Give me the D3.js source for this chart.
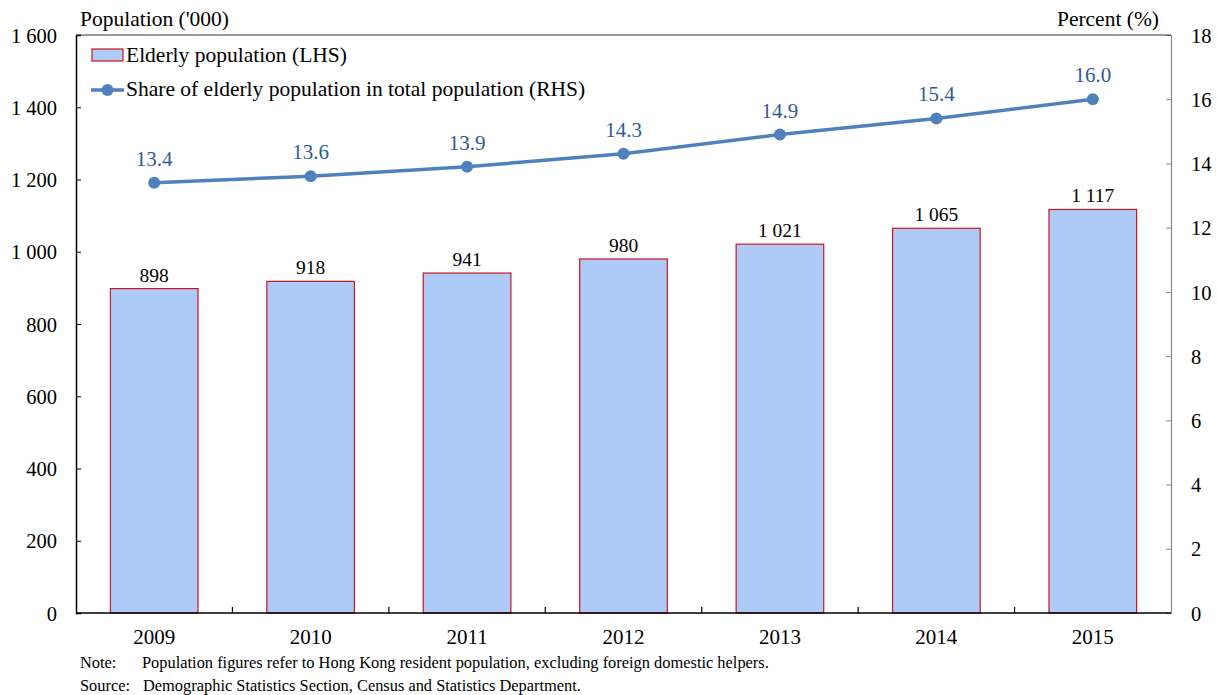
<!DOCTYPE html>
<html>
<head>
<meta charset="utf-8">
<script src="https://cdn.jsdelivr.net/npm/d3@7"></script>
<style>
  html, body { margin: 0; padding: 0; background: #fff; }
  svg { display: block; font-family: "Liberation Serif", "Times New Roman", serif; }
</style>
</head>
<body>
<svg id="chart" width="1217" height="695"></svg>
<script>
// Elderly population in Hong Kong, 2009-2015
const years = ["2009", "2010", "2011", "2012", "2013", "2014", "2015"];
const elderlyPop = [898, 918, 941, 980, 1021, 1065, 1117];      // thousands
const elderlyShare = [13.4, 13.6, 13.9, 14.3, 14.9, 15.4, 16.0]; // percent
const leftTicks = [0, 200, 400, 600, 800, 1000, 1200, 1400, 1600];
const rightTicks = [0, 2, 4, 6, 8, 10, 12, 14, 16, 18];

const svg = d3.select("#chart");
const margin = { left: 76, right: 1171, top: 35, bottom: 613 };

const locale = d3.formatLocale({ decimal: ".", thousands: " ", grouping: [3], currency: ["", ""] });
const fmtInt = locale.format(",d");
const fmt1 = d3.format(".1f");

const x = d3.scaleBand().domain(years).range([margin.left, margin.right]).paddingInner(0.44).paddingOuter(0.22);
const xBand = d3.scaleBand().domain(years).range([margin.left, margin.right]);
const yL = d3.scaleLinear().domain([0, 1600]).range([margin.bottom, margin.top]);
const yR = d3.scaleLinear().domain([0, 18]).range([margin.bottom, margin.top]);

// Bars
svg.append("g").selectAll("rect").data(years).join("rect")
  .attr("x", d => x(d))
  .attr("y", (d, i) => yL(elderlyPop[i]))
  .attr("width", x.bandwidth())
  .attr("height", (d, i) => yL(0) - yL(elderlyPop[i]))
  .attr("fill", "#aecbf8")
  .attr("stroke", "#d0131c")
  .attr("stroke-width", 1.2);

// Bar value labels
svg.append("g").selectAll("text").data(years).join("text")
  .attr("x", d => x(d) + x.bandwidth() / 2)
  .attr("y", (d, i) => yL(elderlyPop[i]) - 7)
  .attr("text-anchor", "middle")
  .attr("font-size", 19.5)
  .attr("fill", "#000")
  .text((d, i) => fmtInt(elderlyPop[i]));

// Left axis
const axL = d3.axisLeft(yL).tickValues(leftTicks).tickSize(-5).tickPadding(19).tickFormat(fmtInt);
const gL = svg.append("g").attr("transform", `translate(${margin.left},0)`).call(axL);
gL.select(".domain").attr("stroke", "#000").attr("stroke-width", 1.5);
gL.selectAll(".tick line").attr("stroke", "#000");
gL.selectAll(".tick text").attr("font-size", 20.5).attr("fill", "#000")
  .attr("font-family", "Liberation Serif, serif").attr("dy", "0.35em");

// Right axis
const axR = d3.axisRight(yR).tickValues(rightTicks).tickSize(-5).tickPadding(20).tickFormat(d3.format("d"));
const gR = svg.append("g").attr("transform", `translate(${margin.right},0)`).call(axR);
gR.select(".domain").attr("stroke", "#888").attr("stroke-width", 1.2);
gR.selectAll(".tick line").attr("stroke", "#888");
gR.selectAll(".tick text").attr("font-size", 20.5).attr("fill", "#000")
  .attr("font-family", "Liberation Serif, serif").attr("dy", "0.35em");

// Top border of plot area
svg.append("line")
  .attr("x1", margin.left).attr("x2", margin.right)
  .attr("y1", margin.top).attr("y2", margin.top)
  .attr("stroke", "#333").attr("stroke-width", 1.2);

// Bottom axis with ticks at category boundaries
const gB = svg.append("g").attr("transform", `translate(0,${margin.bottom})`);
gB.append("line").attr("x1", margin.left).attr("x2", margin.right)
  .attr("stroke", "#000").attr("stroke-width", 1.5);
gB.selectAll("line.sep").data(years.slice(1)).join("line")
  .attr("class", "sep")
  .attr("x1", d => xBand(d)).attr("x2", d => xBand(d))
  .attr("y1", 0).attr("y2", -6)
  .attr("stroke", "#000").attr("stroke-width", 1.2);
gB.selectAll("text").data(years).join("text")
  .attr("x", d => xBand(d) + xBand.bandwidth() / 2)
  .attr("y", 31)
  .attr("text-anchor", "middle")
  .attr("font-size", 21)
  .text(d => d);

// Share line
const lineGen = d3.line()
  .x((d, i) => xBand(years[i]) + xBand.bandwidth() / 2)
  .y(d => yR(d));
svg.append("path").datum(elderlyShare)
  .attr("d", lineGen)
  .attr("fill", "none")
  .attr("stroke", "#4f81bd")
  .attr("stroke-width", 3.5);
svg.append("g").selectAll("circle").data(elderlyShare).join("circle")
  .attr("cx", (d, i) => xBand(years[i]) + xBand.bandwidth() / 2)
  .attr("cy", d => yR(d))
  .attr("r", 6)
  .attr("fill", "#4f81bd");
svg.append("g").selectAll("text").data(elderlyShare).join("text")
  .attr("x", (d, i) => xBand(years[i]) + xBand.bandwidth() / 2)
  .attr("y", d => yR(d) - 17)
  .attr("text-anchor", "middle")
  .attr("font-size", 21)
  .attr("fill", "#2f5a9a")
  .text(d => fmt1(d));

// Axis titles
svg.append("text").attr("x", 80).attr("y", 26).attr("font-size", 21.5).text("Population ('000)");
svg.append("text").attr("x", 1159).attr("y", 26).attr("font-size", 21.5).attr("text-anchor", "end").text("Percent (%)");

// Legend
const lg = svg.append("g");
lg.append("rect").attr("x", 92).attr("y", 49).attr("width", 31).attr("height", 12)
  .attr("fill", "#aecbf8").attr("stroke", "#d0131c").attr("stroke-width", 1.2);
lg.append("text").attr("x", 126).attr("y", 62).attr("font-size", 21.5).text("Elderly population (LHS)");
lg.append("line").attr("x1", 91).attr("x2", 124).attr("y1", 90).attr("y2", 90)
  .attr("stroke", "#4f81bd").attr("stroke-width", 3.5);
lg.append("circle").attr("cx", 107.5).attr("cy", 90).attr("r", 6).attr("fill", "#4f81bd");
lg.append("text").attr("x", 126).attr("y", 96).attr("font-size", 21.5).text("Share of elderly population in total population (RHS)");

// Notes
const notes = svg.append("g").attr("font-size", 16.4);
notes.append("text").attr("x", 80).attr("y", 668).text("Note:");
notes.append("text").attr("x", 142).attr("y", 668).text("Population figures refer to Hong Kong resident population, excluding foreign domestic helpers.");
notes.append("text").attr("x", 80).attr("y", 691).text("Source:");
notes.append("text").attr("x", 143).attr("y", 691).text("Demographic Statistics Section, Census and Statistics Department.");
</script>
</body>
</html>
